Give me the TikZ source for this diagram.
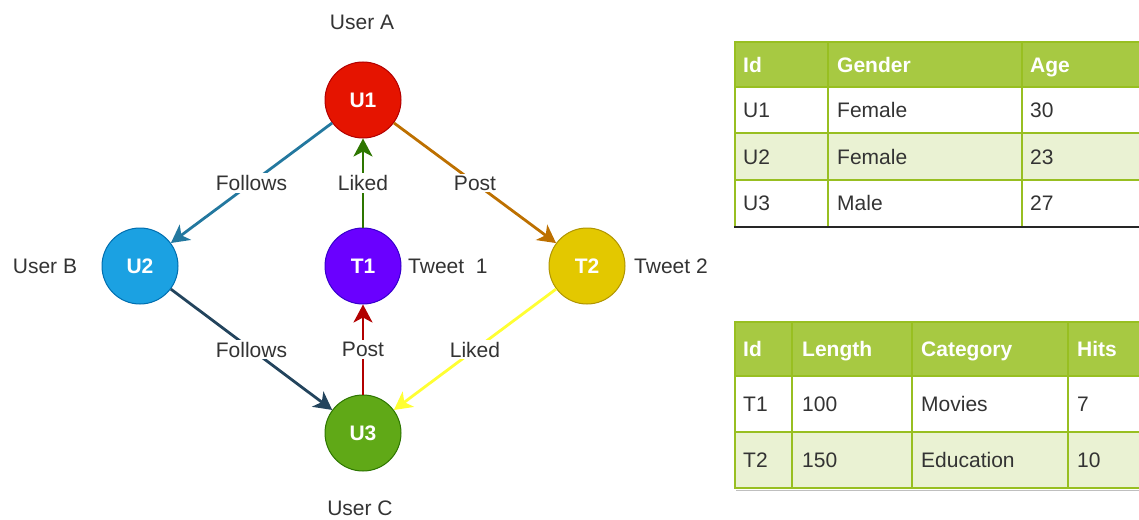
\documentclass[tikz,border=0pt]{standalone}
\usepackage{fontspec}
\setmainfont{Liberation Sans}
\usetikzlibrary{arrows.meta}

\definecolor{txt}{HTML}{333333}
\definecolor{redF}{HTML}{E51400}    \definecolor{redS}{HTML}{B20000}
\definecolor{blueF}{HTML}{1BA1E2}   \definecolor{blueS}{HTML}{006EAF}
\definecolor{violetF}{HTML}{6A00FF} \definecolor{violetS}{HTML}{3700CC}
\definecolor{yellowF}{HTML}{E3C800} \definecolor{yellowS}{HTML}{B09500}
\definecolor{greenF}{HTML}{60A917}  \definecolor{greenS}{HTML}{2D7600}
\definecolor{follA}{HTML}{23789F}
\definecolor{follB}{HTML}{23445D}
\definecolor{postA}{HTML}{BD7000}
\definecolor{likeB}{HTML}{FFFF33}
\definecolor{hdr}{HTML}{A7C942}
\definecolor{brd}{HTML}{98BF21}
\definecolor{alt}{HTML}{EAF2D3}

\tikzset{
  vertex/.style={circle, minimum size=76pt, inner sep=0pt, line width=1pt,
    text=white, font=\fontsize{21}{25}\selectfont\bfseries},
  caption/.style={text=txt, inner sep=0pt},
  edge/.style={line width=2.8pt, -{Stealth[length=18pt,width=19pt,inset=5pt]}},
  lbl/.style={fill=white, text=txt, inner sep=2pt},
  cell/.style={anchor=west, inner sep=0pt, text height=15pt, text depth=0pt, text=txt},
  head/.style={cell, text=white, font=\fontsize{21}{25}\selectfont\bfseries},
  grid/.style={draw=brd, line width=1.6pt},
}

\begin{document}
\begin{tikzpicture}[x=1pt, y=-1pt, font=\fontsize{21}{25}\selectfont]
\useasboundingbox (0,0) rectangle (1139,519);
\clip (0,0) rectangle (1139,519);

% ---- graph vertices ----
\node[vertex, fill=redF,    draw=redS]    (U1) at (363,100) {U1};
\node[vertex, fill=blueF,   draw=blueS]   (U2) at (140,266) {U2};
\node[vertex, fill=violetF, draw=violetS] (T1) at (363,266) {T1};
\node[vertex, fill=yellowF, draw=yellowS] (T2) at (587,266) {T2};
\node[vertex, fill=greenF,  draw=greenS]  (U3) at (363,433) {U3};

% ---- captions ----
\node[caption] (capA) at (362,22)  {User A};
\node[caption] (capB) at (45,266)  {User B};
\node[caption] (capC) at (360,508) {User C};
\node[caption, anchor=west] (capT1) at (408,266) {Tweet\ \ 1};
\node[caption, anchor=west] (capT2) at (634,266) {Tweet 2};

% ---- relations ----
\draw[edge, follA]  (U1) -- node[lbl] {Follows} (U2);
\draw[edge, postA]  (U1) -- node[lbl] {Post}    (T2);
\draw[edge, greenS] (T1) -- node[lbl] {Liked}   (U1);
\draw[edge, follB]  (U2) -- node[lbl] {Follows} (U3);
\draw[edge, redS]   (U3) -- node[lbl] {Post}    (T1);
\draw[edge, likeB]  (T2) -- node[lbl] {Liked}   (U3);

% ---- users table ----
\fill[hdr] (735,42) rectangle (1150,87);
\fill[alt] (735,133) rectangle (1150,180);
\draw[grid] (735,87) -- (1150,87) (735,133) -- (1150,133) (735,180) -- (1150,180);
\draw[grid] (828,42) -- (828,227) (1022,42) -- (1022,227);
\draw[grid] (1150,42) -- (735,42) -- (735,227);
\draw[black!85, line width=2pt] (734,227) -- (1150,227);

\node[head] (ua-h1) at (743,64.5) {Id};
\node[head] (ua-h2) at (837,64.5) {Gender};
\node[head] (ua-h3) at (1030,64.5) {Age};
\foreach \id/\g/\a [count=\r] in {U1/Female/30, U2/Female/23, U3/Male/27} {
  \pgfmathsetmacro{\yy}{110+(\r-1)*46.7}
  \node[cell] (ua-\r-1) at (743,\yy) {\id};
  \node[cell] (ua-\r-2) at (837,\yy) {\g};
  \node[cell] (ua-\r-3) at (1030,\yy) {\a};
}

% ---- tweets table ----
\fill[hdr] (735,322) rectangle (1150,376);
\fill[alt] (735,432) rectangle (1150,488);
\draw[grid] (735,376) -- (1150,376) (735,432) -- (1150,432);
\draw[grid] (792,322) -- (792,488) (912,322) -- (912,488) (1068,322) -- (1068,488);
\draw[grid] (1150,322) -- (735,322) -- (735,488) -- (1150,488);
\draw[black!25, line width=1pt] (736,490) -- (1150,490);

\node[head] (tw-h1) at (743,349) {Id};
\node[head] (tw-h2) at (802,349) {Length};
\node[head] (tw-h3) at (921,349) {Category};
\node[head] (tw-h4) at (1077,349) {Hits};
\foreach \id/\l/\c/\h [count=\r] in {T1/100/Movies/7, T2/150/Education/10} {
  \pgfmathsetmacro{\yy}{404+(\r-1)*56}
  \node[cell] (tw-\r-1) at (743,\yy) {\id};
  \node[cell] (tw-\r-2) at (802,\yy) {\l};
  \node[cell] (tw-\r-3) at (921,\yy) {\c};
  \node[cell] (tw-\r-4) at (1077,\yy) {\h};
}
\end{tikzpicture}
\end{document}
